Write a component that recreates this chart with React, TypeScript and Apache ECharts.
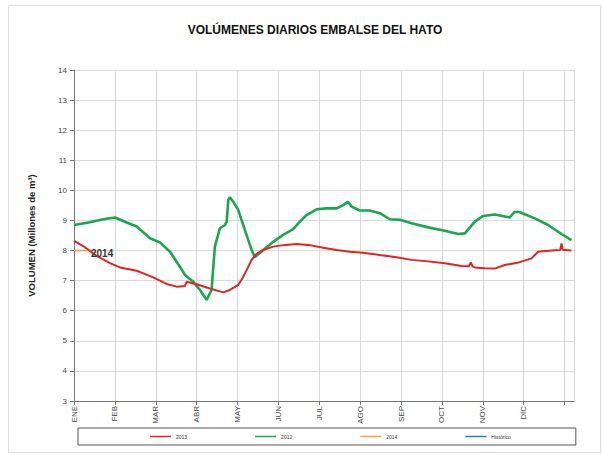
import React, { useEffect, useRef } from "react";
import * as echarts from "echarts";

const months = ["ENE", "FEB", "MAR", "ABR", "MAY", "JUN", "JUL", "AGO", "SEP", "OCT", "NOV", "DIC"];
const yTicks = [3, 14];

// day-of-year positions and volumes (millones de m3)
const days2012 = [0, 11.9, 21.8, 30.6, 39.3, 46.8, 56.7, 64.1, 71.6, 79.0, 82.8, 89.0, 94.0, 98.9, 102.6, 105.1, 108.8, 112.6, 113.9, 115.1, 116.3, 118.8, 122.5, 127.5, 132.5, 134.9, 141.2, 148.6, 156.1, 163.5, 168.5, 173.5, 181.0, 188.4, 195.9, 200.8, 204.5, 207.1, 213.3, 220.7, 228.2, 235.6, 243.1, 251.8, 264.2, 276.6, 286.6, 291.6, 299.0, 305.2, 313.9, 325.1, 328.9, 332.6, 343.8, 353.7, 363.7, 371.1];
const vol2012 = [8.85, 8.94, 9.04, 9.1, 8.93, 8.8, 8.41, 8.27, 7.96, 7.46, 7.19, 6.96, 6.69, 6.36, 6.69, 8.13, 8.74, 8.85, 8.96, 9.68, 9.77, 9.62, 9.35, 8.68, 8.02, 7.78, 8.02, 8.29, 8.52, 8.71, 8.96, 9.18, 9.37, 9.4, 9.4, 9.51, 9.62, 9.46, 9.33, 9.33, 9.24, 9.04, 9.02, 8.91, 8.77, 8.66, 8.55, 8.57, 8.96, 9.15, 9.2, 9.1, 9.29, 9.27, 9.07, 8.85, 8.55, 8.35];

const days2013 = [0, 6.9, 16.9, 26.8, 34.3, 46.8, 59.1, 69.1, 76.6, 82.8, 84.0, 91.5, 101.4, 111.3, 116.3, 122.5, 125.1, 128.8, 132.5, 136.2, 141.2, 148.6, 156.1, 166.1, 176.0, 185.9, 195.9, 205.8, 215.7, 228.2, 240.6, 251.8, 264.2, 276.6, 289.1, 294.6, 296.0, 297.5, 299.0, 306.5, 313.9, 321.4, 331.4, 341.3, 346.2, 356.2, 362.8, 363.7, 364.6, 371.1];
const vol2013 = [8.32, 8.15, 7.82, 7.58, 7.44, 7.33, 7.11, 6.89, 6.8, 6.82, 6.96, 6.88, 6.74, 6.61, 6.69, 6.86, 7.04, 7.35, 7.69, 7.89, 8.02, 8.13, 8.18, 8.22, 8.18, 8.09, 8.02, 7.96, 7.93, 7.85, 7.78, 7.69, 7.64, 7.58, 7.49, 7.48, 7.6, 7.47, 7.44, 7.41, 7.4, 7.52, 7.6, 7.74, 7.96, 8.0, 8.02, 8.24, 8.03, 8.0];

const days2014 = [0, 10.4];
const vol2014 = [8.0, 8.0];

const daysHist: number[] = [];
const volHist: number[] = [];

const zip = (a: number[], b: number[]) => a.map((d, i) => [d, b[i]]);

const FONT = "Liberation Sans";

export default function App() {
  const ref = useRef<HTMLDivElement>(null);
  useEffect(() => {
    if (!ref.current) return;
    const chart = echarts.init(ref.current, null, { renderer: "svg" });
    const dayStep = 30.5;
    chart.setOption({
      animation: false,
      backgroundColor: "#ffffff",
      textStyle: { fontFamily: FONT },
      title: {
        text: "VOLÚMENES DIARIOS EMBALSE DEL HATO",
        left: 310,
        textAlign: "center",
        top: 19,
        textStyle: { fontSize: 12, fontWeight: "bold", color: "#111", fontFamily: FONT },
      },
      graphic: [
        {
          type: "rect",
          shape: { x: 8.5, y: 5.5, width: 592, height: 447 },
          style: { fill: "none", stroke: "#dddddd", lineWidth: 1 },
          silent: true,
        },
      ],
      grid: { left: 74, right: 29, top: 70, bottom: 54 },
      legend: {
        left: 78,
        top: 428,
        orient: "horizontal",
        borderColor: "#555",
        borderWidth: 1,
        padding: [6, 65, 6, 72],
        itemGap: 68,
        itemWidth: 21,
        itemHeight: 1.5,
        icon: "rect",
        textStyle: { fontSize: 5, color: "#333", fontFamily: FONT },
        data: ["2013", "2012", "2014", "Histórico"],
      },
      xAxis: {
        type: "value",
        min: 0,
        max: 373,
        interval: dayStep,
        axisLine: { show: true, onZero: false, lineStyle: { color: "#777", width: 1 } },
        axisTick: { show: true, length: 4, lineStyle: { color: "#777" } },
        splitLine: { show: true, lineStyle: { color: "#d9d9d9", width: 1 } },
        axisLabel: {
          rotate: 90,
          fontSize: 8,
          color: "#444",
          margin: 5,
          showMaxLabel: false,
          formatter: (v: number) => {
            const i = Math.round(v / dayStep);
            return Math.abs(v - i * dayStep) < 0.01 && i < months.length ? months[i] : "";
          },
        },
      },
      yAxis: {
        type: "value",
        min: yTicks[0],
        max: yTicks[1],
        interval: 1,
        name: "VOLUMEN (Millones de m³)",
        nameLocation: "middle",
        nameGap: 38,
        nameTextStyle: { fontSize: 9.5, fontWeight: "bold", color: "#222", fontFamily: FONT },
        axisLine: { show: true, lineStyle: { color: "#777", width: 1 } },
        axisTick: { show: true, length: 4, lineStyle: { color: "#777" } },
        splitLine: { show: true, lineStyle: { color: "#d9d9d9", width: 1 } },
        axisLabel: { fontSize: 8, color: "#444", margin: 7 },
      },
      series: [
        {
          name: "2013",
          type: "line",
          data: zip(days2013, vol2013),
          symbol: "none",
          color: "#e02424",
          lineStyle: { width: 2, color: "#e02424" },
          z: 3,
        },
        {
          name: "2012",
          type: "line",
          data: zip(days2012, vol2012),
          symbol: "none",
          color: "#1aa64f",
          lineStyle: { width: 2.6, color: "#1aa64f" },
          z: 2,
        },
        {
          name: "2014",
          type: "line",
          data: zip(days2014, vol2014),
          symbol: "none",
          color: "#f0a040",
          lineStyle: { width: 1.5, color: "#f0a040" },
          endLabel: {
            show: true,
            formatter: "{a}",
            fontSize: 10,
            fontWeight: "bold",
            color: "#333",
            distance: 3,
            offset: [0, 3],
          },
          z: 4,
        },
        {
          name: "Histórico",
          type: "line",
          data: zip(daysHist, volHist),
          symbol: "none",
          color: "#2a7ab8",
          lineStyle: { width: 1.5, color: "#2a7ab8" },
        },
      ],
    });
    return () => chart.dispose();
  }, []);
  return <div ref={ref} style={{ position: "fixed", left: 0, top: 0, width: 603, height: 455 }} />;
}
